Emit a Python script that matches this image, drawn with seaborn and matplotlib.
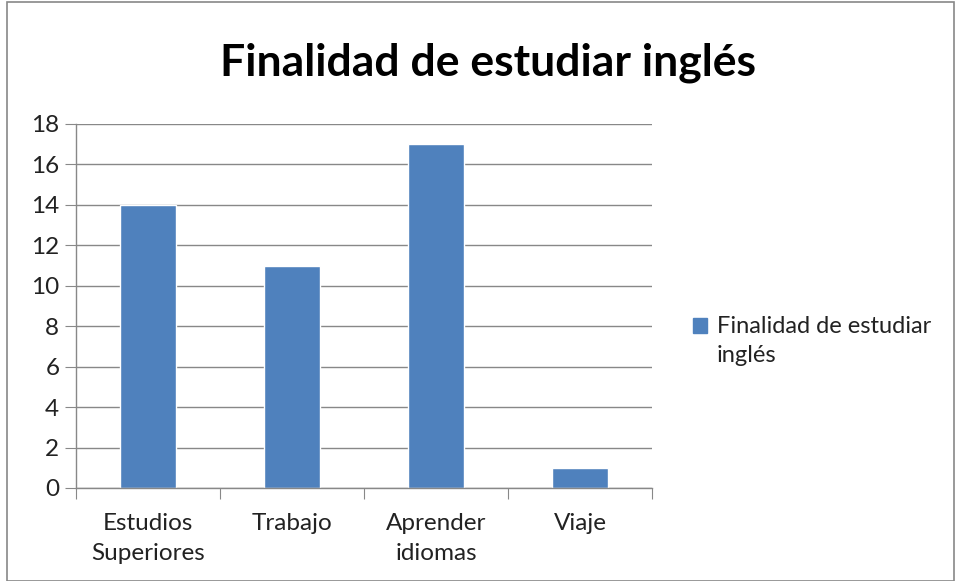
import numpy as np
import pandas as pd
import seaborn as sns
import matplotlib.pyplot as plt
from matplotlib.patches import Rectangle, Patch

categorias = ["Estudios\nSuperiores", "Trabajo", "Aprender\nidiomas", "Viaje"]
valores = [14, 11, 17, 1]
serie = "Finalidad de estudiar inglés"

df = pd.DataFrame({"categoria": categorias, "valor": valores})

sns.set_style("white")
plt.rcParams['font.family'] = ['Lato', 'DejaVu Sans']

fig = plt.figure(figsize=(9.58, 5.81), dpi=100)
ax = fig.add_axes([76 / 958, 1 - 488 / 581, 576 / 958, 364 / 581])

sns.barplot(data=df, x="categoria", y="valor", color="#4F81BD", width=0.39,
            saturation=1, ax=ax)

ax.set_ylim(0, 18)
ax.set_xlim(-0.5, 3.5)
ax.set_yticks(range(0, 19, 2))
ax.yaxis.grid(True, color="#888888", linewidth=1)
ax.set_axisbelow(True)
ax.set_xlabel("")
ax.set_ylabel("")
for s in ["top", "right"]:
    ax.spines[s].set_visible(False)
for s in ["left", "bottom"]:
    ax.spines[s].set_color("#888888")
    ax.spines[s].set_linewidth(1)

# x ticks between the categories, labels centered
ax.set_xticks(np.arange(-0.5, 4, 1))
ax.set_xticklabels([])
ax.set_xticks(range(4), minor=True)
ax.set_xticklabels(categorias, minor=True, fontsize=17.5, color="#222222",
                   linespacing=1.5)
ax.tick_params(axis="x", which="major", bottom=True, length=8, color="#888888")
ax.tick_params(axis="x", which="minor", bottom=False, pad=16)
ax.tick_params(axis="y", left=True, length=8, color="#888888", labelsize=17.5,
               labelcolor="#222222", pad=4)

fig.text(488 / 958, 1 - 63 / 581, serie, ha="center", va="center",
         fontsize=32, fontweight="bold", color="#000000")

leg = fig.legend(handles=[Patch(color="#4F81BD", label="Finalidad de estudiar\ninglés")],
                 loc="center left", bbox_to_anchor=(672 / 958, 1 - 341 / 581),
                 frameon=False, fontsize=17, handlelength=0.6, handleheight=0.6,
                 handletextpad=0.4, labelcolor="#222222")
for t in leg.get_texts():
    t.set_linespacing(1.5)
# marker next to the first line, like excel
h = leg.legend_handles[0]
h.set_y(h.get_y() + 11)

fig.patches.append(Rectangle((7 / 958, 0), 947 / 958, 1 - 2 / 581,
                             transform=fig.transFigure, fill=False,
                             edgecolor="#888888", linewidth=1.2))

fig.savefig("out.png", dpi=100)
